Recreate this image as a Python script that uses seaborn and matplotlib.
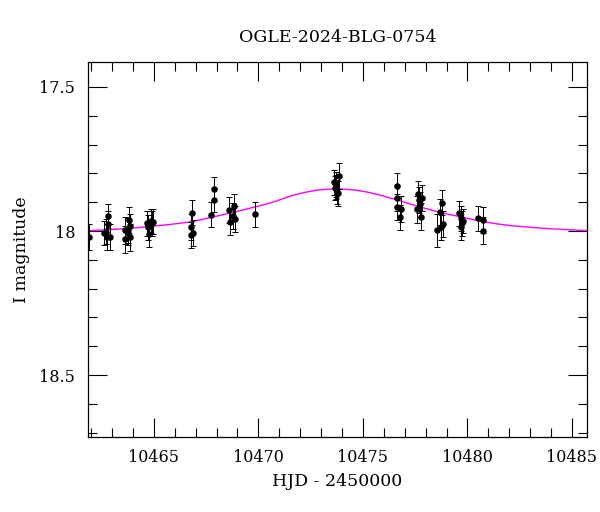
import matplotlib
matplotlib.use("Agg")
import matplotlib.pyplot as plt
import matplotlib.ticker as mticker
import seaborn as sns
import pandas as pd

# --- data ---
hjd = [10461.89,
       10462.61, 10462.69, 10462.75, 10462.81, 10462.81, 10462.88,
       10463.61, 10463.61, 10463.74, 10463.77, 10463.82, 10463.85, 10463.88,
       10464.65, 10464.73, 10464.77, 10464.85, 10464.89, 10464.94,
       10466.77, 10466.80, 10466.83, 10466.88,
       10467.72, 10467.86, 10467.88,
       10468.58, 10468.63, 10468.79, 10468.83, 10468.90,
       10469.86,
       10473.61, 10473.65, 10473.69, 10473.73, 10473.76, 10473.80, 10473.85,
       10476.62, 10476.64, 10476.64, 10476.79, 10476.83,
       10477.58, 10477.63, 10477.67, 10477.74, 10477.79, 10477.84,
       10478.55, 10478.71, 10478.74, 10478.79, 10478.82,
       10479.62, 10479.67, 10479.70, 10479.75, 10479.78,
       10480.53, 10480.73, 10480.76]
mag = [18.020,
       18.008, 18.002, 18.022, 17.948, 17.976, 18.020,
       17.997, 18.029, 18.006, 17.997, 17.962, 18.022, 17.983,
       17.973, 17.987, 18.010, 17.964, 17.973, 17.968,
       17.985, 18.014, 17.936, 18.006,
       17.944, 17.892, 17.854,
       17.927, 17.968, 17.948, 17.913, 17.959,
       17.942,
       17.831, 17.851, 17.838, 17.848, 17.864, 17.869, 17.809,
       17.916, 17.843, 17.886, 17.952, 17.925,
       17.925, 17.873, 17.892, 17.907, 17.950, 17.886,
       17.997, 17.933, 17.985, 17.902, 17.977,
       17.939, 17.985, 17.956, 17.973, 17.965,
       17.956, 17.962, 17.999]
mag_err = [0.046,
           0.042, 0.044, 0.045, 0.043, 0.044, 0.046,
           0.047, 0.046, 0.044, 0.043, 0.045, 0.046, 0.042,
           0.043, 0.044, 0.045, 0.042, 0.043, 0.044,
           0.045, 0.046, 0.044, 0.045,
           0.043, 0.042, 0.043,
           0.045, 0.046, 0.044, 0.043, 0.045,
           0.044,
           0.044, 0.042, 0.043, 0.041, 0.042, 0.043, 0.046,
           0.045, 0.043, 0.044, 0.043, 0.045,
           0.046, 0.045, 0.044, 0.043, 0.046, 0.044,
           0.057, 0.045, 0.046, 0.044, 0.045,
           0.044, 0.045, 0.043, 0.044, 0.042,
           0.044, 0.045, 0.046]

# model curve samples
model_hjd = [10461.83, 10462.66, 10463.61, 10464.73, 10465.80, 10466.80,
             10467.91, 10469.26, 10470.20, 10470.86, 10471.40, 10471.97,
             10472.50, 10472.93, 10473.30, 10473.73, 10474.10, 10474.52,
             10475.00, 10475.48, 10476.00, 10476.59, 10477.15, 10477.71,
             10478.66, 10479.62, 10480.58, 10481.40, 10482.16, 10483.00,
             10483.76, 10484.70, 10485.74]
model_mag = [17.999, 17.996, 17.992, 17.985, 17.977, 17.968,
             17.950, 17.927, 17.910, 17.896, 17.882, 17.870,
             17.862, 17.857, 17.855, 17.854, 17.855, 17.857,
             17.862, 17.869, 17.879, 17.891, 17.904, 17.916,
             17.935, 17.950, 17.965, 17.975, 17.982, 17.987,
             17.991, 17.995, 17.999]

title = "OGLE-2024-BLG-0754"

obs = pd.DataFrame({"hjd": hjd, "mag": mag, "err": mag_err})
model = pd.DataFrame({"hjd": model_hjd, "mag": model_mag})

sns.set_style("ticks")
plt.rcParams['font.family'] = ['DejaVu Serif']
plt.rcParams['text.color'] = 'black'
plt.rcParams['axes.labelcolor'] = 'black'

fig = plt.figure(figsize=(6, 5.12), dpi=100)
ax = fig.add_axes([0.146, 0.147, 0.833, 0.731])

sns.lineplot(data=model, x="hjd", y="mag", ax=ax, color="#ff00ff", lw=1.0,
             sort=False, zorder=1)
ax.errorbar(obs["hjd"], obs["mag"], yerr=obs["err"], fmt="none",
            ecolor="black", elinewidth=0.7, capsize=2.5, capthick=0.7, zorder=2)
sns.scatterplot(data=obs, x="hjd", y="mag", ax=ax, color="black", s=22,
                edgecolor="black", linewidth=0, zorder=3)

ax.set_xlim(10461.83, 10485.74)
ax.set_ylim(18.714, 17.415)

ax.xaxis.set_major_locator(mticker.MultipleLocator(5))
ax.xaxis.set_minor_locator(mticker.MultipleLocator(1))
ax.yaxis.set_major_locator(mticker.MultipleLocator(0.5))
ax.yaxis.set_minor_locator(mticker.MultipleLocator(0.1))
ax.yaxis.set_major_formatter(mticker.FuncFormatter(lambda v, p: f"{v:g}"))

ax.tick_params(which="both", direction="in", top=True, right=True,
               width=0.8, colors="black", labelcolor="black", labelsize=11.5)
ax.tick_params(which="major", length=13.5, pad=9)
ax.tick_params(which="minor", length=6.5)
for s in ax.spines.values():
    s.set_linewidth(0.9)
    s.set_color("black")

ax.set_xlabel("HJD - 2450000", fontsize=12.5, labelpad=5, color="black")
ax.set_ylabel("I magnitude", fontsize=12.5, labelpad=7, color="black")
ax.set_title(title, fontsize=12.5, pad=15, color="black")

fig.savefig("out.png", dpi=100)
